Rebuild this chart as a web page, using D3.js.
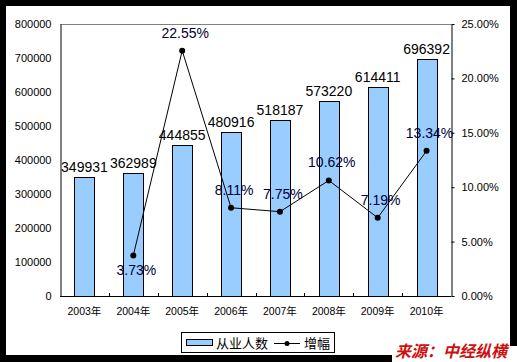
<!DOCTYPE html>
<html>
<head>
<meta charset="utf-8">
<script src="https://cdn.jsdelivr.net/npm/d3@7"></script>
<style>
  body { margin: 0; background: #000; }
  svg { display: block; }
  text { font-family: "Liberation Sans", Arial, sans-serif; }
  .cjk { font-family: "Liberation Sans", "Noto Sans CJK SC", sans-serif; }
</style>
</head>
<body>
<div id="chart"></div>
<script>
// chart data
const years = ["2003年", "2004年", "2005年", "2006年", "2007年", "2008年", "2009年", "2010年"];
const workers = [349931, 362989, 444855, 480916, 518187, 573220, 614411, 696392];
const growth = [null, 3.73, 22.55, 8.11, 7.75, 10.62, 7.19, 13.34];
const leftTicks = [0, 100000, 200000, 300000, 400000, 500000, 600000, 700000, 800000];
const rightTicks = [0, 5, 10, 15, 20, 25];

const width = 517,
    height = 362,
    margin = ({ top: 24, right: 66, bottom: 66, left: 60 });

const svg = d3.select("#chart")
    .append("svg")
    .attr("width", width)
    .attr("height", height);

// white panel inside the black frame
svg.append("rect")
    .attr("x", 6).attr("y", 6)
    .attr("width", 504).attr("height", 349)
    .attr("fill", "#fff");

let x = d3.scaleBand()
    .domain(years)
    .range([margin.left, width - margin.right]);

let y = d3.scaleLinear()
    .domain([0, 800000])
    .range([height - margin.bottom, margin.top]);

let y2 = d3.scaleLinear()
    .domain([0, 25])
    .range([height - margin.bottom, margin.top]);

const bottom = height - margin.bottom;

// top border of plot area
svg.append("line")
    .attr("x1", margin.left).attr("x2", width - margin.right)
    .attr("y1", margin.top + 0.5).attr("y2", margin.top + 0.5)
    .attr("stroke", "#808080");

// bars
const barW = 20;
svg.selectAll(".bar")
    .data(workers)
    .join("rect")
    .attr("class", "bar")
    .attr("x", (d, i) => Math.round(x(years[i]) + x.bandwidth() / 2 - barW / 2) + 0.5)
    .attr("y", d => Math.round(y(d)) + 0.5)
    .attr("width", barW)
    .attr("height", d => bottom - Math.round(y(d)))
    .attr("fill", "#99CCFF")
    .attr("stroke", "#000");

// left axis
const leftAxis = svg.append("g")
    .attr("transform", `translate(${margin.left + 0.5},0)`)
    .call(d3.axisLeft(y).tickValues(leftTicks).tickSize(0).tickPadding(9).tickFormat(d3.format("d")));
leftAxis.select(".domain").attr("stroke", "#000");
leftAxis.selectAll("text").attr("font-size", 11).attr("fill", "#000");

// right axis
const rightAxis = svg.append("g")
    .attr("transform", `translate(${width - margin.right + 0.5},0)`)
    .call(d3.axisRight(y2).tickValues(rightTicks).tickSize(3).tickPadding(7).tickSizeOuter(0)
        .tickFormat(d => d3.format(".2f")(d) + "%"));
rightAxis.select(".domain").attr("stroke", "#000");
rightAxis.selectAll("text").attr("font-size", 11).attr("fill", "#000");

// bottom axis
svg.append("line")
    .attr("x1", margin.left).attr("x2", width - margin.right)
    .attr("y1", bottom + 0.5).attr("y2", bottom + 0.5)
    .attr("stroke", "#000");
svg.selectAll(".xtick")
    .data(years.slice(1))
    .join("line")
    .attr("class", "xtick")
    .attr("x1", d => Math.round(x(d)) + 0.5).attr("x2", d => Math.round(x(d)) + 0.5)
    .attr("y1", bottom).attr("y2", bottom - 3)
    .attr("stroke", "#000");
svg.selectAll(".xlabel")
    .data(years)
    .join("text")
    .attr("class", "xlabel cjk")
    .attr("x", d => x(d) + x.bandwidth() / 2)
    .attr("y", bottom + 19)
    .attr("text-anchor", "middle")
    .attr("font-size", 10.5)
    .text(d => d);

// bar value labels
svg.selectAll(".vlabel")
    .data(workers)
    .join("text")
    .attr("class", "vlabel")
    .attr("x", (d, i) => x(years[i]) + x.bandwidth() / 2)
    .attr("y", d => y(d) - 5)
    .attr("text-anchor", "middle")
    .attr("font-size", 14)
    .text(d => d);

// growth line
const pts = growth.map((g, i) => ({ g, year: years[i] })).filter(d => d.g !== null);
let line = d3.line()
    .x(d => x(d.year) + x.bandwidth() / 2)
    .y(d => y2(d.g));

svg.append("path")
    .datum(pts)
    .attr("d", line)
    .attr("fill", "none")
    .attr("stroke", "#000")
    .attr("stroke-width", 1);

svg.selectAll(".pt")
    .data(pts)
    .join("circle")
    .attr("class", "pt")
    .attr("cx", d => x(d.year) + x.bandwidth() / 2)
    .attr("cy", d => y2(d.g))
    .attr("r", 3)
    .attr("fill", "#000");

svg.selectAll(".glabel")
    .data(pts)
    .join("text")
    .attr("class", "glabel")
    .attr("x", d => x(d.year) + x.bandwidth() / 2 + 3)
    .attr("y", d => d.g < 5 ? y2(d.g) + 20 : y2(d.g) - 13)
    .attr("text-anchor", "middle")
    .attr("font-size", 14)
    .attr("fill", "#000033")
    .text(d => d3.format(".2f")(d.g) + "%");

// legend
const lg = svg.append("g");
lg.append("rect")
    .attr("x", 181.5).attr("y", 332.5)
    .attr("width", 153).attr("height", 20)
    .attr("fill", "#fff").attr("stroke", "#000");
lg.append("rect")
    .attr("x", 186.5).attr("y", 339.5)
    .attr("width", 26).attr("height", 6)
    .attr("fill", "#99CCFF").attr("stroke", "#000");
lg.append("text")
    .attr("class", "cjk")
    .attr("x", 216).attr("y", 348)
    .attr("font-size", 13)
    .text("从业人数");
lg.append("line")
    .attr("x1", 274).attr("x2", 300)
    .attr("y1", 343.5).attr("y2", 343.5)
    .attr("stroke", "#000");
lg.append("circle")
    .attr("cx", 287).attr("cy", 343.5).attr("r", 2.5)
    .attr("fill", "#000");
lg.append("text")
    .attr("class", "cjk")
    .attr("x", 304).attr("y", 348)
    .attr("font-size", 13)
    .text("增幅");

// source note
svg.append("rect")
    .attr("x", 392).attr("y", 346)
    .attr("width", 125).attr("height", 16)
    .attr("fill", "#fff");
svg.append("text")
    .attr("class", "cjk")
    .attr("x", 395).attr("y", 357)
    .attr("font-size", 16)
    .attr("font-weight", "bold")
    .attr("font-style", "italic")
    .attr("fill", "#CC1111")
    .text("来源：中经纵横");
</script>
</body>
</html>
